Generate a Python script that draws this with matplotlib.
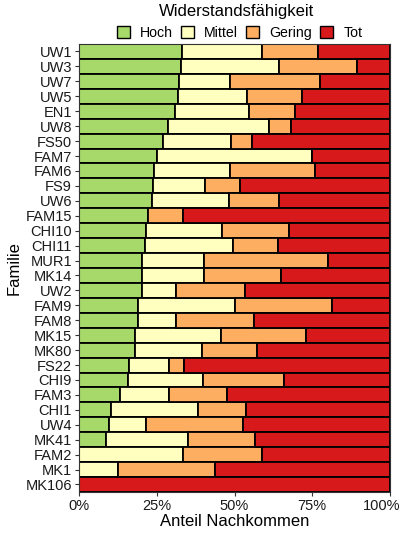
import numpy as np
import matplotlib
matplotlib.use("Agg")
import matplotlib.pyplot as plt
import matplotlib.transforms as mtransforms
from matplotlib.patches import Patch

plt.rcParams["font.family"] = ["Liberation Sans", "DejaVu Sans"]

familien = ["UW1", "UW3", "UW7", "UW5", "EN1", "UW8", "FS50", "FAM7", "FAM6",
            "FS9", "UW6", "FAM15", "CHI10", "CHI11", "MUR1", "MK14", "UW2",
            "FAM9", "FAM8", "MK15", "MK80", "FS22", "CHI9", "FAM3", "CHI1",
            "UW4", "MK41", "FAM2", "MK1", "MK106"]

# percentage of offspring per resistance class
hoch = [33.0, 32.8, 32.3, 31.7, 30.8, 28.6, 27.0, 25.1, 24.1,
        23.8, 23.4, 22.3, 21.4, 21.2, 20.4, 20.4, 20.4,
        18.9, 18.9, 18.1, 18.0, 16.0, 15.8, 13.2, 10.4,
        9.6, 8.8, 0.0, 0.0, 0.0]
mittel = [25.7, 31.6, 16.3, 22.3, 23.9, 32.4, 21.8, 49.9, 24.3,
          16.7, 24.9, 0.0, 24.6, 28.4, 19.7, 19.7, 10.7,
          31.3, 12.3, 27.5, 21.4, 12.9, 24.0, 15.8, 28.0,
          11.9, 26.1, 33.4, 12.6, 0.0]
gering = [18.3, 24.9, 28.9, 17.6, 14.8, 7.1, 6.9, 0.0, 27.5,
          11.3, 16.1, 11.1, 21.5, 14.3, 40.1, 25.0, 22.3,
          31.0, 25.2, 27.4, 17.9, 4.8, 26.1, 18.5, 15.3,
          31.1, 21.8, 25.3, 31.2, 0.0]
tot = [100 - h - m - g for h, m, g in zip(hoch, mittel, gering)]

klassen = ["Hoch", "Mittel", "Gering", "Tot"]
farben = ["#a6d96a", "#ffffbf", "#fdae61", "#d7191c"]
x_ticks = [0, 0.25, 0.5, 0.75, 1.0]
x_labels = ["0%", "25%", "50%", "75%", "100%"]

fig = plt.figure(figsize=(4, 5.33), dpi=100)
ax = fig.add_axes([0.1975, 0.077, 0.7775, 0.8404])

y = np.arange(len(familien))
left = np.zeros(len(familien))
for werte, farbe in zip([hoch, mittel, gering, tot], farben):
    werte = np.array(werte) / 100
    ax.barh(y, werte, left=left, height=1.0, color=farbe,
            edgecolor="black", linewidth=1.3)
    left += werte

ax.set_xlim(0, 1)
ax.set_ylim(len(familien) - 0.5, -0.5)
ax.set_yticks(y)
ax.set_yticklabels(familien)
ax.set_xticks(x_ticks)
ax.set_xticklabels(x_labels)
ax.tick_params(axis="both", labelsize=10.5, colors="#333333", length=3,
               width=0.8, labelcolor="#1a1a1a", pad=2)
for s in ax.spines.values():
    s.set_color("#333333")
    s.set_linewidth(0.8)

# nudge the 100% label a bit left so it stays inside the picture
last = ax.get_xticklabels()[-1]
last.set_transform(last.get_transform() +
                   mtransforms.ScaledTranslation(-6 / 72, 0, fig.dpi_scale_trans))

ax.set_xlabel("Anteil Nachkommen", fontsize=12, labelpad=1)
ax.set_ylabel("Familie", fontsize=12, labelpad=3)

fig.text(0.5925, 0.979, "Widerstandsfähigkeit", fontsize=12, ha="center", va="center")
handles = [Patch(facecolor=f, edgecolor="black", linewidth=1.0) for f in farben]
fig.legend(handles, klassen, loc="center", bbox_to_anchor=(0.599, 0.938),
           ncol=4, frameon=False, fontsize=10.2, handlelength=0.9,
           handleheight=0.9, handletextpad=0.75, columnspacing=0.55,
           borderpad=0.2)

fig.savefig("out.png", dpi=100)
